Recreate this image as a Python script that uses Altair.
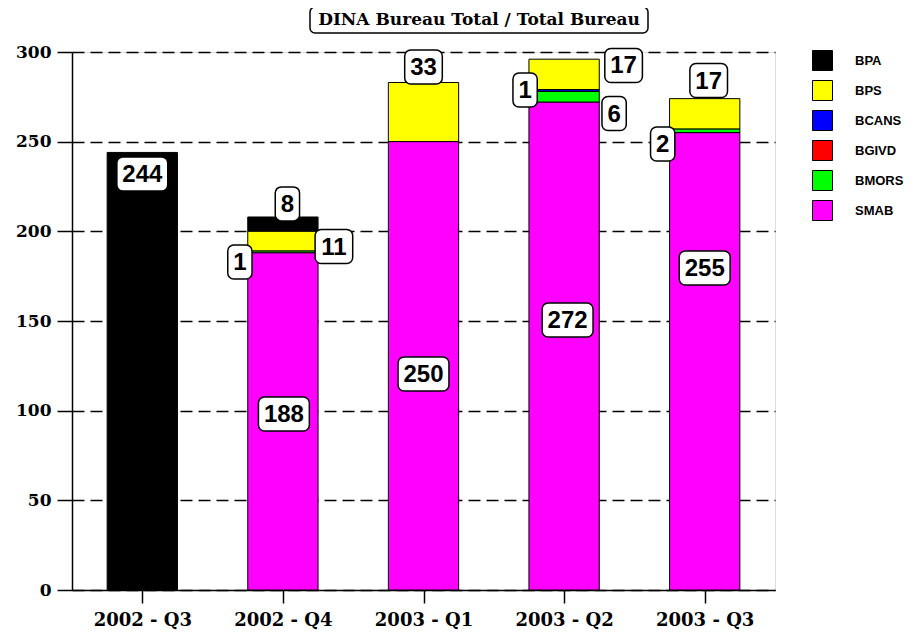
import json
import altair as alt
import pandas as pd

TITLE = "DINA Bureau Total / Total Bureau"
quarters = ["2002 - Q3", "2002 - Q4", "2003 - Q1", "2003 - Q2", "2003 - Q3"]
series = ["BPA", "BPS", "BCANS", "BGIVD", "BMORS", "SMAB"]
colors = ["#000000", "#ffff00", "#0000ff", "#ff0000", "#00ff00", "#ff00ff"]
stack_rank = [5, 4, 3, 2, 1, 0]  # SMAB at the bottom of each column

BPA = [244, 8, 0, 0, 0]
BPS = [0, 11, 33, 17, 17]
BCANS = [0, 0, 0, 1, 0]
BGIVD = [0, 0, 0, 0, 0]
BMORS = [0, 1, 0, 6, 2]
SMAB = [0, 188, 250, 272, 255]

# value labels: quarter index, series, value where the box is centred, sideways shift (px)
label_q = [0, 1, 1, 1, 1, 2, 2, 3, 3, 3, 3, 4, 4, 4]
label_series = ["BPA", "BPA", "BMORS", "BPS", "SMAB", "BPS", "SMAB",
                "BCANS", "BPS", "BMORS", "SMAB", "BPS", "BMORS", "SMAB"]
label_at = [232, 215.3, 182.9, 191.5, 98.1, 291.6, 120.4,
            278.8, 292.5, 265.7, 150.6, 284.1, 248.7, 179.6]
label_dx = [0, 4.5, -43, 51, 1, 0, 0, -39, 59.5, 50, 3.5, 4, -42, 0]

values = {"BPA": BPA, "BPS": BPS, "BCANS": BCANS, "BGIVD": BGIVD, "BMORS": BMORS, "SMAB": SMAB}

W, H = 703, 538
PXU = W / 5.0
PYU = H / 300.0

seg_rows = []
for s, r in zip(series, stack_rank):
    for qi, v in enumerate(values[s]):
        if v:
            seg_rows.append({"qi": qi, "series": s, "value": v, "rank": r})
seg_df = pd.DataFrame(seg_rows)

lab_df = pd.DataFrame({
    "qi": label_q,
    "series": label_series,
    "at": label_at,
    "dx": label_dx,
    "label": [str(values[s][q]) for s, q in zip(label_series, label_q)],
})

xscale = alt.Scale(domain=[-0.5, 4.5], nice=False, zero=False)
yscale = alt.Scale(domain=[0, 300], nice=False)

label_expr = json.dumps(quarters) + "[datum.value]"

xaxis = alt.Axis(values=[0, 1, 2, 3, 4], labelExpr=label_expr, grid=False,
                 domainColor="black", domainWidth=1.5, tickColor="black", tickSize=13,
                 tickWidth=1.5, labelFont="DejaVu Serif", labelFontWeight="bold",
                 labelFontSize=18, labelColor="black", labelPadding=8, title=None,
                 labelFlush=False, labelOverlap=False)
yaxis = alt.Axis(values=[0, 50, 100, 150, 200, 250, 300], grid=True, gridColor="black",
                 gridDash=[12, 6], gridWidth=1.5, domainColor="black", domainWidth=1.5,
                 tickColor="black", tickSize=15, tickWidth=1.5, labelFont="DejaVu Serif",
                 labelFontWeight="bold", labelFontSize=17, labelColor="black",
                 labelPadding=6, title=None)

legend = alt.Legend(title=None, orient="none", legendX=740, legendY=-2,
                    symbolType="square", symbolSize=400, symbolStrokeColor="black",
                    symbolStrokeWidth=1, symbolOpacity=1, labelFont="Liberation Sans",
                    labelFontWeight="bold", labelFontSize=13, labelColor="black",
                    labelOffset=22, rowPadding=5, padding=0)

bars = alt.Chart(seg_df).transform_stack(
    stack="value", groupby=["qi"], as_=["v0", "v1"],
    sort=[alt.SortField("rank", order="ascending")]
).transform_calculate(
    x0="datum.qi - 0.25", x1="datum.qi + 0.25"
).mark_bar(stroke="black", strokeWidth=1, opacity=1).encode(
    x=alt.X("x0:Q", scale=xscale, axis=xaxis),
    x2="x1:Q",
    y=alt.Y("v0:Q", scale=yscale, axis=yaxis),
    y2="v1:Q",
    color=alt.Color("series:N", scale=alt.Scale(domain=series, range=colors), legend=legend),
)

boxes = alt.Chart(lab_df).transform_calculate(
    cx=f"datum.qi + datum.dx / {PXU}",
    hw=f"(13.3 * length(datum.label) + 11) / 2 / {PXU}",
).transform_calculate(
    xa="datum.cx - datum.hw", xb="datum.cx + datum.hw",
    ya=f"datum.at - 17 / {PYU}", yb=f"datum.at + 17 / {PYU}",
).mark_rect(fill="white", stroke="black", strokeWidth=1.5, cornerRadius=6).encode(
    x=alt.X("xa:Q", scale=xscale, title=None),
    x2="xb:Q",
    y=alt.Y("ya:Q", scale=yscale, title=None),
    y2="yb:Q",
)

texts = alt.Chart(lab_df).transform_calculate(
    cx=f"datum.qi + datum.dx / {PXU}"
).mark_text(font="Liberation Sans", fontWeight="bold", fontSize=24,
            baseline="middle", align="center", dy=1, color="black").encode(
    x=alt.X("cx:Q", scale=xscale, title=None),
    y=alt.Y("at:Q", scale=yscale, title=None),
    text="label:N",
)

title_df = pd.DataFrame({"t": [TITLE]})
title_box = alt.Chart(title_df).mark_rect(fill="white", stroke="black", strokeWidth=1.5,
                                          cornerRadius=5).encode(
    x=alt.value(238), x2=alt.value(576), y=alt.value(-45), y2=alt.value(-19))
title_text = alt.Chart(title_df).mark_text(font="DejaVu Serif", fontWeight="bold",
                                           fontSize=17, baseline="middle", align="center",
                                           color="black").encode(
    x=alt.value(407), y=alt.value(-32), text="t:N")

chart = alt.layer(bars, boxes, texts, title_box, title_text).properties(
    width=W, height=H,
    padding={"left": 64, "top": 44, "right": 130, "bottom": 40},
    autosize=alt.AutoSizeParams(type="none"),
).configure_view(stroke=None).configure(background="white")

chart.save("out.html", embed_options={"renderer": "svg", "actions": False})
